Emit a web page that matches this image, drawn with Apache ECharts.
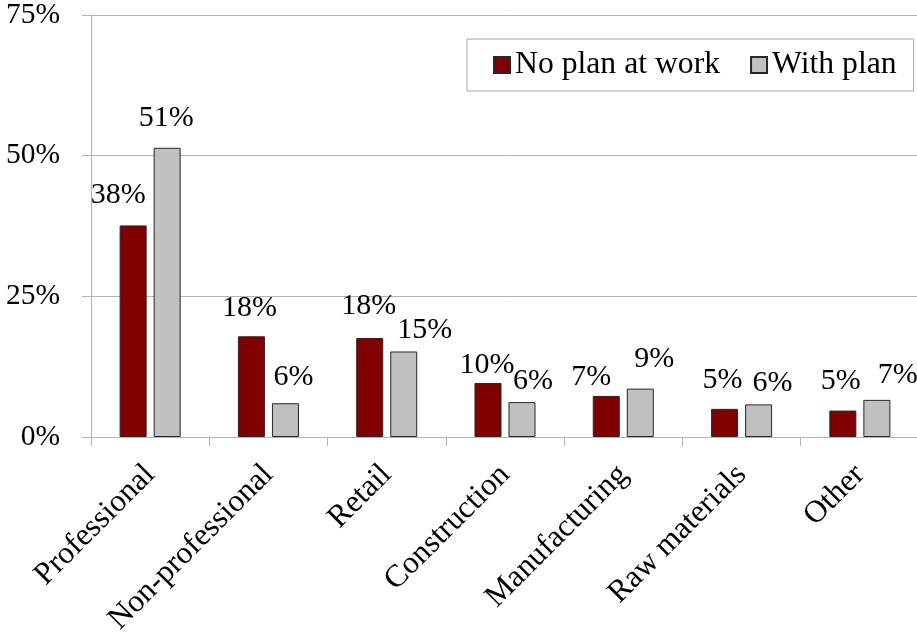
<!DOCTYPE html>
<html>
<head>
<meta charset="utf-8">
<script src="https://cdn.jsdelivr.net/npm/echarts@6/dist/echarts.min.js"></script>
<style>
  html, body { margin: 0; padding: 0; background: #ffffff; }
  #chart { width: 917px; height: 635px; }
</style>
</head>
<body>
<div id="chart"></div>
<script>
// Share of workers by industry, split by whether they have a plan at work
const categories = ['Professional', 'Non-professional', 'Retail', 'Construction', 'Manufacturing', 'Raw materials', 'Other'];
const noPlanAtWork = [37.6, 17.9, 17.6, 9.6, 7.3, 5.0, 4.7];
const withPlan = [51.4, 6.0, 15.2, 6.2, 8.6, 5.8, 6.6];
const yTicks = [0, 25, 50, 75];

// Hand-placed value label nudges: [dx, gap above bar top]
const noPlanLabelNudge = [[-15, 20], [-2, 18], [-1, 22], [-1, 8], [-15, 9], [-2, 19], [-2, 19]];
const withPlanLabelNudge = [[-1, 20], [8, 16], [21, 11], [11, 11], [14, 19], [14, 11], [21, 15]];

const FONT = "'Liberation Serif', 'Times New Roman', serif";
const GRID_GRAY = '#b3b3b3';

function labelled(values, nudges) {
  return values.map((v, i) => ({
    value: v,
    label: { offset: [nudges[i][0], -(nudges[i][1] - 5)] }
  }));
}

const chart = echarts.init(document.getElementById('chart'), null, { renderer: 'canvas' });

const valueLabel = {
  show: true,
  position: 'top',
  distance: 0,
  fontFamily: FONT,
  fontSize: 30,
  color: '#000000',
  formatter: p => Math.round(p.value) + '%'
};

chart.setOption({
  animation: false,
  backgroundColor: '#ffffff',
  textStyle: { fontFamily: FONT },
  grid: {
    left: 91, right: -2, top: 15, bottom: 198,
    containLabel: false,
    outerBoundsMode: 'none'
  },
  legend: {
    left: 467,
    top: 39,
    orient: 'horizontal',
    padding: [10, 17, 10, 26],
    borderColor: '#a6a6a6',
    borderWidth: 1,
    itemGap: 30,
    itemWidth: 16,
    itemHeight: 16,
    icon: 'rect',
    textStyle: { fontFamily: FONT, fontSize: 31.7, color: '#000000', lineHeight: 32 },
    data: ['No plan at work', 'With plan']
  },
  xAxis: {
    type: 'category',
    data: categories,
    boundaryGap: true,
    axisLine: { show: true, lineStyle: { color: GRID_GRAY, width: 1 } },
    axisTick: { show: true, length: 9, alignWithLabel: false, lineStyle: { color: GRID_GRAY } },
    axisLabel: {
      rotate: 45,
      margin: 33,
      interval: 0,
      fontFamily: FONT,
      fontSize: 31.5,
      color: '#000000'
    }
  },
  yAxis: {
    type: 'value',
    min: yTicks[0],
    max: yTicks[yTicks.length - 1],
    interval: yTicks[1] - yTicks[0],
    axisLine: { show: true, lineStyle: { color: GRID_GRAY, width: 1 } },
    axisTick: { show: true, length: 9, inside: false, lineStyle: { color: GRID_GRAY } },
    splitLine: { show: true, lineStyle: { color: GRID_GRAY, width: 1 } },
    axisLabel: {
      margin: 31,
      fontFamily: FONT,
      fontSize: 29.5,
      color: '#000000',
      formatter: v => v + '%'
    }
  },
  series: [
    {
      name: 'No plan at work',
      type: 'bar',
      data: labelled(noPlanAtWork, noPlanLabelNudge),
      barWidth: 27,
      barGap: '26%',
      itemStyle: { color: '#800000', borderColor: '#262626', borderWidth: 1 },
      label: valueLabel
    },
    {
      name: 'With plan',
      type: 'bar',
      data: labelled(withPlan, withPlanLabelNudge),
      barWidth: 27,
      barGap: '26%',
      itemStyle: { color: '#c0c0c0', borderColor: '#262626', borderWidth: 1 },
      label: valueLabel
    }
  ]
});
</script>
</body>
</html>
